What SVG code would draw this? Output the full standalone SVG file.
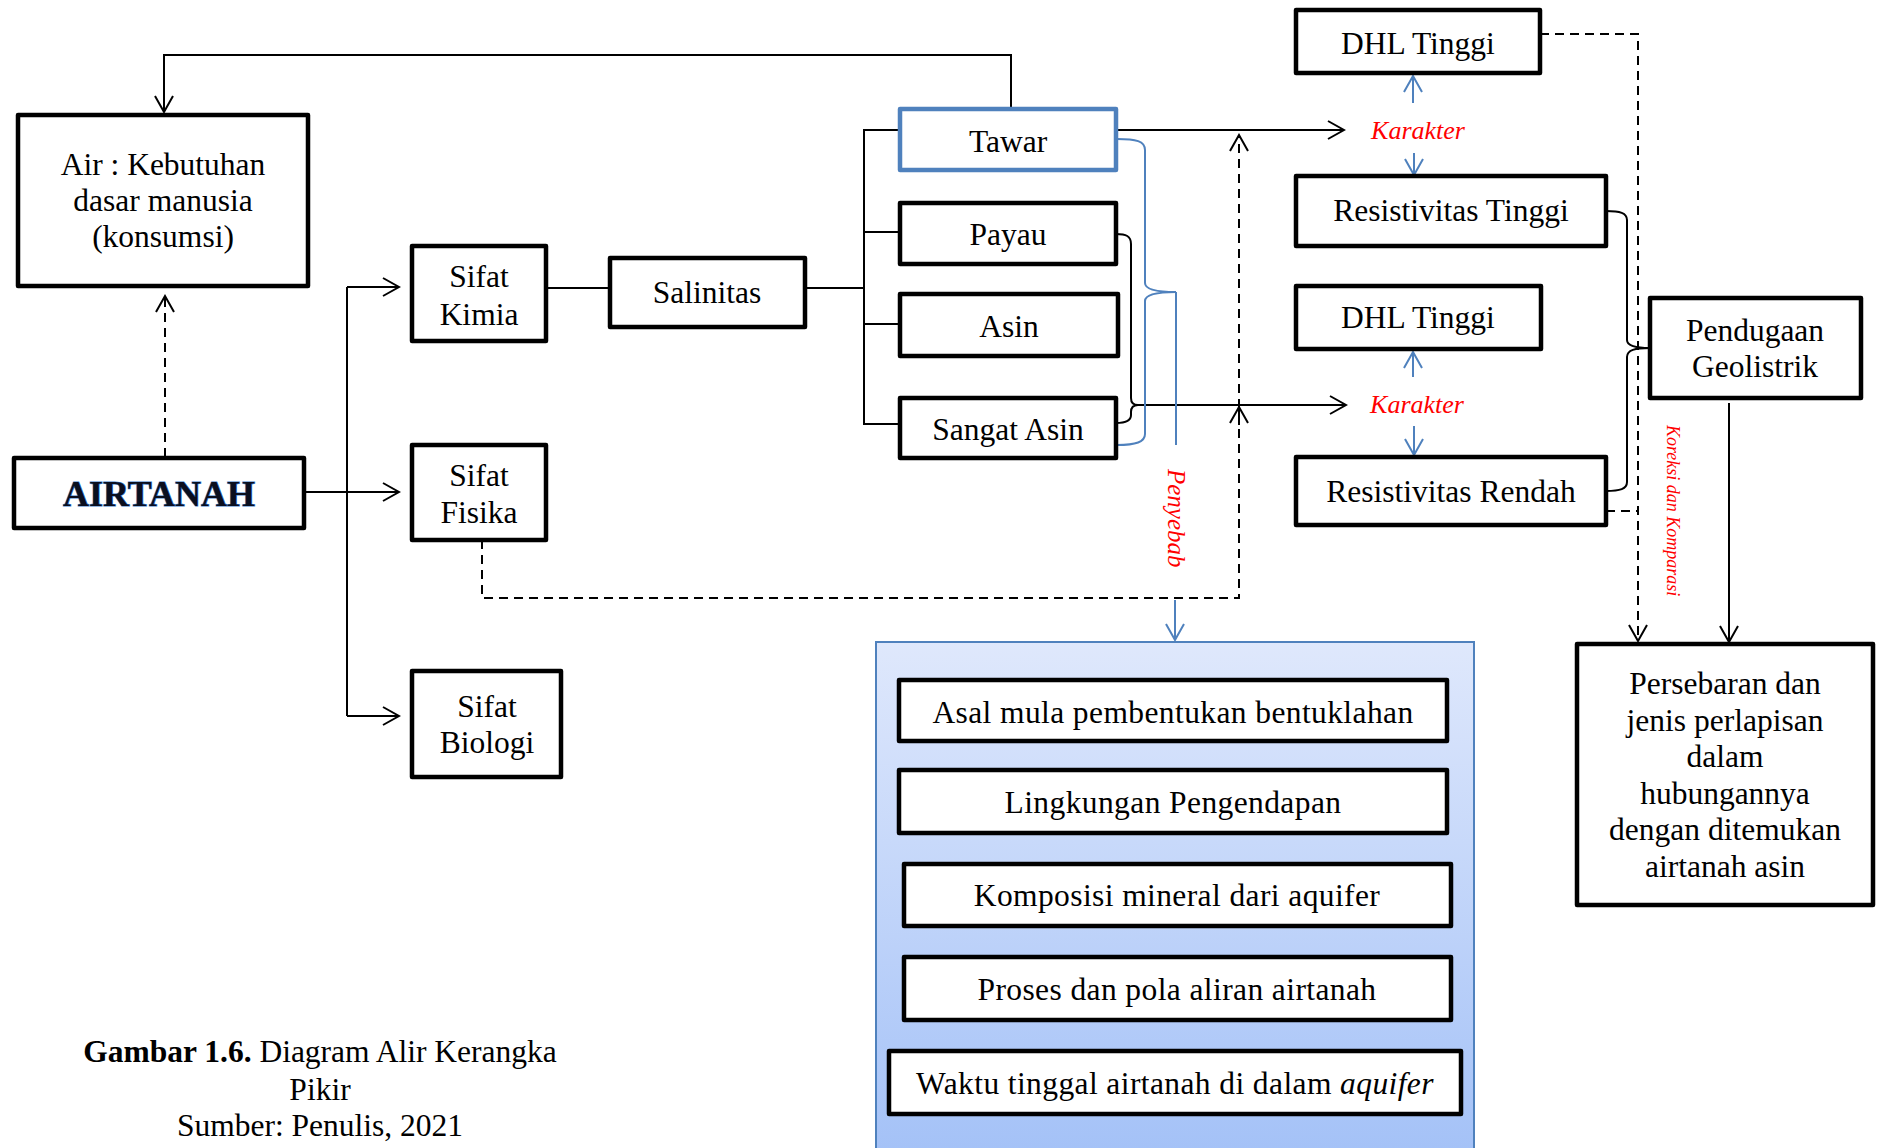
<svg xmlns="http://www.w3.org/2000/svg" width="1879" height="1148" viewBox="0 0 1879 1148">
<style>
.box{fill:#fff;stroke:#000;stroke-width:4.5;stroke-linejoin:round}
.bbox{fill:#fff;stroke:#4f81bd;stroke-width:4.5;stroke-linejoin:round}
.t{font-family:"Liberation Serif","Times New Roman",serif;font-size:31.5px;fill:#000;text-anchor:middle}
.w{letter-spacing:0.4px}
.k{font-family:"Liberation Serif","Times New Roman",serif;font-size:26px;font-style:italic;fill:#ff0000;text-anchor:middle}
.ln{fill:none;stroke:#000;stroke-width:2}
.dl{fill:none;stroke:#000;stroke-width:2;stroke-dasharray:9 6}
.bl{fill:none;stroke:#4f81bd;stroke-width:2}
</style>
<defs>
<marker id="ah" viewBox="0 0 20 20" refX="18" refY="10" markerWidth="20" markerHeight="20" markerUnits="userSpaceOnUse" orient="auto">
<path d="M2,1 L18,10 L2,19" fill="none" stroke="#000" stroke-width="2" stroke-dasharray="none"/>
</marker>
<marker id="ahb" viewBox="0 0 20 20" refX="18" refY="10" markerWidth="20" markerHeight="20" markerUnits="userSpaceOnUse" orient="auto">
<path d="M2,1 L18,10 L2,19" fill="none" stroke="#4f81bd" stroke-width="2"/>
</marker>
<linearGradient id="bg" x1="0" y1="0" x2="0" y2="1">
<stop offset="0" stop-color="#dfe8fc"/>
<stop offset="1" stop-color="#a3c1f7"/>
</linearGradient>
</defs>
<rect width="1879" height="1148" fill="#fff"/>

<g id="connectors">
<path class="ln" d="M1011,109 V55 H164 V112" marker-end="url(#ah)"/>
<path class="dl" d="M165,457 V296" marker-end="url(#ah)"/>
<path class="ln" d="M304,492 H399" marker-end="url(#ah)"/>
<path class="ln" d="M347,287 H399" marker-end="url(#ah)"/>
<path class="ln" d="M347,716 H399" marker-end="url(#ah)"/>
<path class="ln" d="M347,287 V716"/>
<path class="ln" d="M546,288 H610"/>
<path class="ln" d="M805,288 H864"/>
<path class="ln" d="M900,130 H864 V424 H900 M864,232 H900 M864,324 H900"/>
<path class="ln" d="M1116,130 H1344" marker-end="url(#ah)"/>
<path class="ln" d="M1116,234 C1126,234 1131,236 1131,244 L1131,398 C1131,403 1133,405 1138,405 C1133,405 1131,407 1131,412 L1131,415 C1131,421 1126,423 1116,423"/>
<path class="ln" d="M1136,405 H1346" marker-end="url(#ah)"/>
<path class="bl" d="M1117,139 C1136,139 1145,141 1145,150 L1145,283 C1145,290 1160,292 1176,292 C1160,292 1145,294 1145,301 L1145,434 C1145,442 1136,445 1117,445"/>
<path class="bl" d="M1176,292 V445"/>
<path class="bl" d="M1175,600 V640" marker-end="url(#ahb)"/>
<path class="dl" d="M482,540 V598 H1239 V135" marker-end="url(#ah)"/>
<path class="ln" d="M1239,425 V407" marker-end="url(#ah)"/>
<path class="bl" d="M1413,103 V76" marker-end="url(#ahb)"/>
<path class="bl" d="M1414,153 V175" marker-end="url(#ahb)"/>
<path class="bl" d="M1413,377 V352" marker-end="url(#ahb)"/>
<path class="bl" d="M1414,426 V455" marker-end="url(#ahb)"/>
<path class="ln" d="M1606,211 C1620,211 1627,213 1627,220 L1627,340 C1627,346 1635,348 1650,348 C1635,348 1627,350 1627,357 L1627,482 C1627,489 1620,491 1606,491"/>
<path class="dl" d="M1540,34 H1638 V641" marker-end="url(#ah)"/>
<path class="dl" d="M1606,511 H1638"/>
<path class="ln" d="M1729,403 V642" marker-end="url(#ah)"/>
</g>

<g id="air"><rect class="box" x="18" y="115" width="290" height="171"/>
<text class="t" x="163" y="175">Air : Kebutuhan</text><text class="t" x="163" y="211">dasar manusia</text><text class="t" x="163" y="247">(konsumsi)</text></g>
<g id="airtanah"><rect class="box" x="14" y="458" width="290" height="70"/>
<text x="159" y="506" font-family="Liberation Serif,serif" font-size="36" font-weight="bold" fill="#0b0f1e" stroke="#3a78c8" stroke-width="1.2" paint-order="stroke" text-anchor="middle">AIRTANAH</text></g>
<g id="kimia"><rect class="box" x="412" y="246" width="134" height="95"/>
<text class="t" x="479" y="287">Sifat</text><text class="t" x="479" y="325">Kimia</text></g>
<g id="fisika"><rect class="box" x="412" y="445" width="134" height="95"/>
<text class="t" x="479" y="486">Sifat</text><text class="t" x="479" y="523">Fisika</text></g>
<g id="biologi"><rect class="box" x="412" y="671" width="149" height="106"/>
<text class="t" x="487" y="717">Sifat</text><text class="t" x="487" y="753">Biologi</text></g>
<g id="salinitas"><rect class="box" x="610" y="258" width="195" height="69"/>
<text class="t" x="707" y="303">Salinitas</text></g>
<g id="tawar"><rect class="bbox" x="900" y="109" width="216" height="61"/>
<text class="t" x="1008" y="152">Tawar</text></g>
<g id="payau"><rect class="box" x="900" y="203" width="216" height="61"/>
<text class="t" x="1008" y="245">Payau</text></g>
<g id="asin"><rect class="box" x="900" y="294" width="218" height="62"/>
<text class="t" x="1009" y="337">Asin</text></g>
<g id="sangatasin"><rect class="box" x="900" y="398" width="216" height="60"/>
<text class="t" x="1008" y="440">Sangat Asin</text></g>
<g id="penyebab"><text class="k" transform="translate(1168,469) rotate(90)" style="text-anchor:start;font-size:25px">Penyebab</text></g>
<g id="dhl1"><rect class="box" x="1296" y="10" width="244" height="63"/>
<text class="t" x="1418" y="54">DHL Tinggi</text></g>
<g id="karakter1"><text class="k" x="1418" y="139">Karakter</text></g>
<g id="rest"><rect class="box" x="1296" y="176" width="310" height="70"/>
<text class="t" x="1451" y="221">Resistivitas Tinggi</text></g>
<g id="dhl2"><rect class="box" x="1296" y="286" width="245" height="63"/>
<text class="t" x="1418" y="328">DHL Tinggi</text></g>
<g id="karakter2"><text class="k" x="1417" y="413">Karakter</text></g>
<g id="resr"><rect class="box" x="1296" y="457" width="310" height="68"/>
<text class="t" x="1451" y="502">Resistivitas Rendah</text></g>
<g id="pendugaan"><rect class="box" x="1650" y="298" width="211" height="100"/>
<text class="t" x="1755" y="341">Pendugaan</text><text class="t" x="1755" y="377">Geolistrik</text></g>
<g id="koreksi"><text class="k" transform="translate(1667,425) rotate(90)" style="text-anchor:start;font-size:18px">Koreksi dan Komparasi</text></g>
<g id="persebaran"><rect class="box" x="1577" y="644" width="296" height="261"/>
<text class="t" x="1725" y="694">Persebaran dan</text><text class="t" x="1725" y="731">jenis perlapisan</text><text class="t" x="1725" y="767">dalam</text><text class="t" x="1725" y="804">hubungannya</text><text class="t" x="1725" y="840">dengan ditemukan</text><text class="t" x="1725" y="877">airtanah asin</text></g>
<g id="penyebab-group"><rect x="876" y="642" width="598" height="520" fill="url(#bg)" stroke="#4f81bd" stroke-width="2"/>
<g id="asal"><rect class="box" x="899" y="680" width="548" height="61"/><text class="t w" x="1173" y="723">Asal mula pembentukan bentuklahan</text></g>
<g id="lingkungan"><rect class="box" x="899" y="770" width="548" height="63"/><text class="t w" x="1173" y="813">Lingkungan Pengendapan</text></g>
<g id="komposisi"><rect class="box" x="904" y="864" width="547" height="62"/><text class="t w" x="1177" y="906">Komposisi mineral dari aquifer</text></g>
<g id="proses"><rect class="box" x="904" y="957" width="547" height="63"/><text class="t w" x="1177" y="1000">Proses dan pola aliran airtanah</text></g>
<g id="waktu"><rect class="box" x="889" y="1051" width="572" height="63"/><text class="t w" x="1175" y="1094">Waktu tinggal airtanah di dalam <tspan font-style="italic">aquifer</tspan></text></g>
</g>
<g id="caption"><text class="t" x="320" y="1062"><tspan font-weight="bold">Gambar 1.6.</tspan> Diagram Alir Kerangka</text><text class="t" x="320" y="1100">Pikir</text><text class="t" x="320" y="1136">Sumber: Penulis, 2021</text></g>
</svg>
